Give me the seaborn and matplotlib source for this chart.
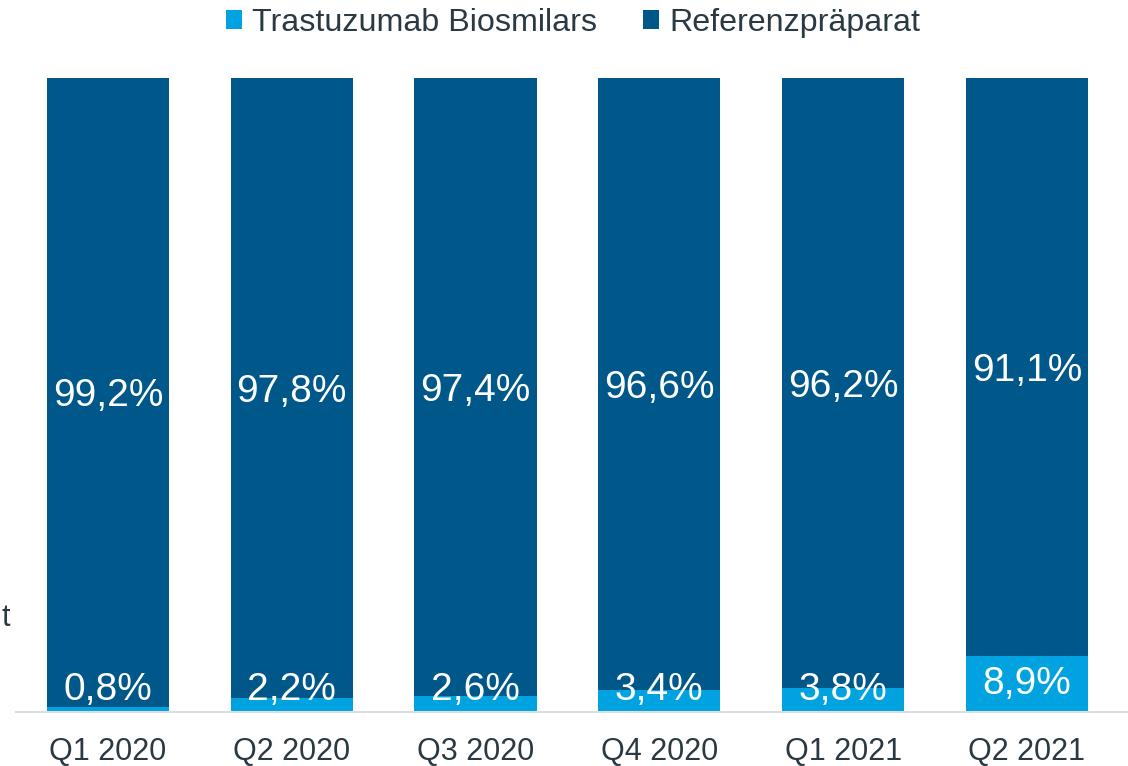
import matplotlib
matplotlib.use("Agg")
import matplotlib.pyplot as plt
import seaborn as sns
import pandas as pd
from matplotlib.patches import Patch

categories = ["Q1 2020", "Q2 2020", "Q3 2020", "Q4 2020", "Q1 2021", "Q2 2021"]
biosimilars = [0.8, 2.2, 2.6, 3.4, 3.8, 8.9]
referenz = [99.2, 97.8, 97.4, 96.6, 96.2, 91.1]
series_names = ["Trastuzumab Biosmilars", "Referenzpräparat"]

DARK = "#00578A"
LIGHT = "#00A3E0"
TEXT = "#2B3942"

sns.set_theme(style="white")
plt.rcParams["font.family"] = ["Liberation Sans", "DejaVu Sans"]

df = pd.DataFrame({"Quartal": categories, "bio": biosimilars, "ref": referenz})
df["total"] = df["bio"] + df["ref"]

fig = plt.figure(figsize=(11.28, 7.66), dpi=100)
ax = fig.add_axes([16 / 1128, 54 / 766, (1128 - 16) / 1128, (712 - 78) / 766])

sns.barplot(data=df, x="Quartal", y="total", color=DARK, width=0.664,
            saturation=1, ax=ax, linewidth=0)
sns.barplot(data=df, x="Quartal", y="bio", color=LIGHT, width=0.664,
            saturation=1, ax=ax, linewidth=0)

ax.set_ylim(0, 100)
ax.set_xlim(-0.5, 5.55)
ax.set_xlabel("")
ax.set_ylabel("")
ax.set_yticks([])
for s in ["top", "right", "left"]:
    ax.spines[s].set_visible(False)
ax.spines["bottom"].set_color("#D9DEE2")
ax.spines["bottom"].set_linewidth(1.5)
ax.tick_params(axis="x", length=0, pad=18, labelsize=22, labelcolor=TEXT)

for i, (b, r) in enumerate(zip(biosimilars, referenz)):
    ax.text(i, b + r / 2 - 0.6, f"{r:.1f}%".replace(".", ","), ha="center", va="center",
            color="white", fontsize=28)
    yb = max(b / 2, 3.4)
    ax.text(i, yb, f"{b:.1f}%".replace(".", ","), ha="center", va="center",
            color="white", fontsize=28)

handles = [Patch(facecolor=LIGHT, edgecolor="none"), Patch(facecolor=DARK, edgecolor="none")]
fig.legend(handles, series_names, loc="center", bbox_to_anchor=(573 / 1128, 1 - 23 / 766),
           ncol=2, frameon=False, fontsize=23.2, handlelength=0.5, handleheight=0.5,
           handletextpad=0.3, columnspacing=1.45, labelcolor=TEXT)

fig.text(10 / 1128, 1 - 618 / 766, "t", ha="right", va="center", fontsize=22, color=TEXT)

fig.savefig("out.png", dpi=100)
